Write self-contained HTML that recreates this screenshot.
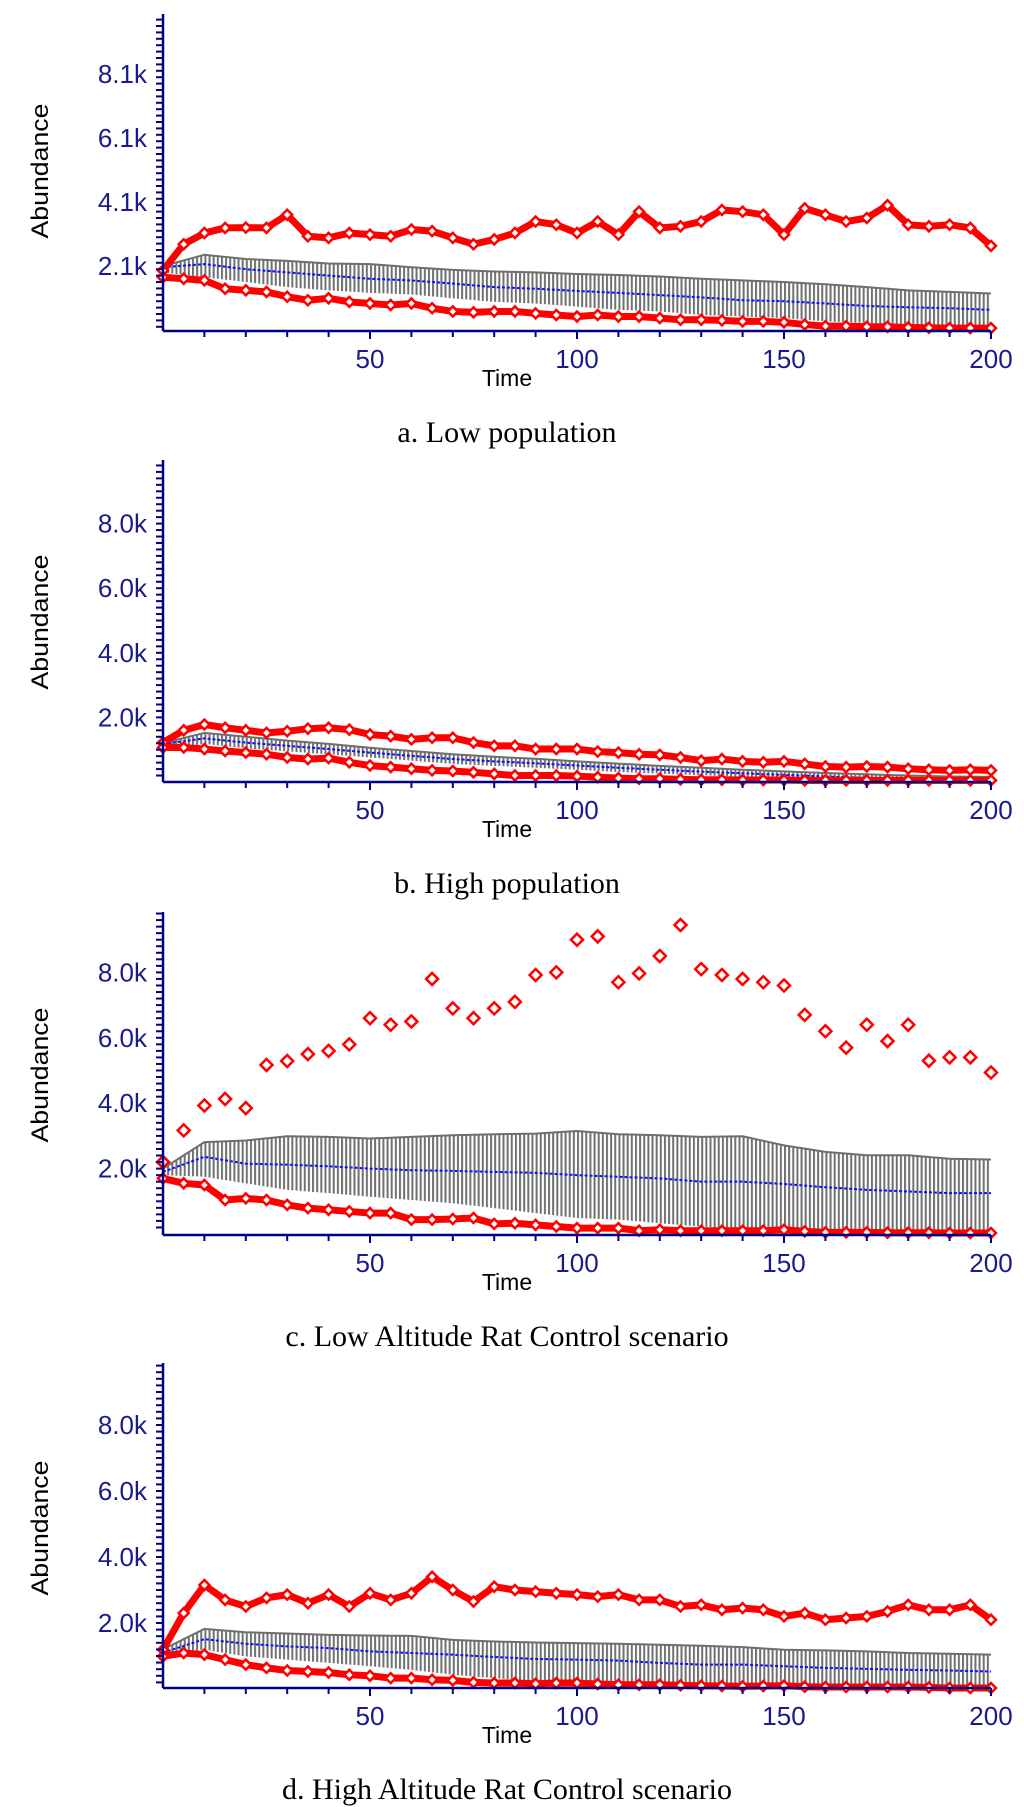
<!DOCTYPE html>
<html><head><meta charset="utf-8"><style>
html,body{margin:0;padding:0;background:#fff;}
svg{display:block;}
</style></head><body>
<svg id="chart" width="1024" height="1807" viewBox="0 0 1024 1807" xmlns="http://www.w3.org/2000/svg">
<defs>
<pattern id="hatch" patternUnits="userSpaceOnUse" width="4.14" height="10" x="163">
<rect x="0" y="0" width="2" height="10" fill="#707070"/>
</pattern>
</defs>
</svg>
<script>
const t5 = [0,5,10,15,20,25,30,35,40,45,50,55,60,65,70,75,80,85,90,95,100,105,110,115,120,125,130,135,140,145,150,155,160,165,170,175,180,185,190,195,200];
const t10 = [0,10,20,30,40,50,60,70,80,90,100,110,120,130,140,150,160,170,180,190,200];
const xTicks = [50,100,150,200];

// Panel a: Low population
const aUpper = [1.96,2.78,3.13,3.29,3.3,3.29,3.7,3.03,2.98,3.13,3.08,3.03,3.24,3.19,2.98,2.78,2.93,3.13,3.49,3.39,3.13,3.49,3.08,3.8,3.29,3.34,3.49,3.85,3.8,3.7,3.08,3.9,3.7,3.49,3.6,4.0,3.39,3.34,3.39,3.29,2.73];
const aLower = [1.75,1.7,1.65,1.39,1.34,1.29,1.14,1.03,1.09,0.98,0.93,0.88,0.93,0.78,0.68,0.65,0.68,0.68,0.62,0.57,0.52,0.57,0.52,0.52,0.47,0.42,0.42,0.4,0.37,0.37,0.34,0.27,0.22,0.22,0.2,0.2,0.18,0.17,0.16,0.16,0.16];
const aMean = [2.06,2.16,2.0,1.9,1.8,1.7,1.65,1.55,1.44,1.39,1.32,1.26,1.19,1.12,1.03,1.0,0.93,0.85,0.81,0.78,0.73];
const aBarTop = [2.1,2.45,2.32,2.26,2.18,2.16,2.06,1.98,1.93,1.9,1.85,1.82,1.77,1.7,1.65,1.6,1.53,1.44,1.34,1.29,1.24];
const aBarBot = [1.9,1.75,1.6,1.44,1.34,1.26,1.21,1.09,0.98,0.93,0.83,0.73,0.68,0.57,0.52,0.47,0.37,0.32,0.27,0.24,0.22];
const aTickVals = [2.1,4.1,6.1,8.1];
const aTickLabels = ["2.1k","4.1k","6.1k","8.1k"];

// Panel b: High population
const bUpper = [1.22,1.6,1.78,1.68,1.6,1.52,1.57,1.65,1.68,1.62,1.47,1.42,1.32,1.37,1.37,1.22,1.12,1.12,1.02,1.02,1.02,0.94,0.91,0.86,0.84,0.76,0.66,0.71,0.64,0.61,0.64,0.56,0.48,0.46,0.48,0.46,0.41,0.38,0.36,0.38,0.36];
const bLower = [1.07,1.07,1.02,0.96,0.91,0.86,0.76,0.71,0.74,0.61,0.51,0.46,0.41,0.36,0.34,0.3,0.25,0.2,0.2,0.2,0.18,0.15,0.12,0.1,0.1,0.08,0.07,0.07,0.06,0.06,0.06,0.05,0.05,0.05,0.05,0.05,0.05,0.05,0.05,0.05,0.05];
const bMean = [1.17,1.35,1.22,1.12,1.02,0.91,0.81,0.71,0.64,0.58,0.51,0.44,0.38,0.32,0.27,0.22,0.17,0.13,0.1,0.08,0.08];
const bBarTop = [1.2,1.52,1.4,1.28,1.18,1.06,0.96,0.86,0.78,0.72,0.64,0.57,0.5,0.44,0.38,0.33,0.28,0.24,0.2,0.17,0.16];
const bBarBot = [1.0,1.18,1.04,0.95,0.86,0.76,0.66,0.56,0.5,0.44,0.38,0.31,0.26,0.21,0.16,0.11,0.07,0.03,0.01,0,0];
const bTickVals = [2,4,6,8];
const bTickLabels = ["2.0k","4.0k","6.0k","8.0k"];

// Panel c: Low Altitude Rat Control scenario
const cUpper = [2.2,3.17,3.93,4.13,3.85,5.17,5.29,5.5,5.6,5.8,6.6,6.4,6.5,7.8,6.9,6.6,6.9,7.1,7.92,8.0,9.0,9.1,7.7,7.97,8.5,9.45,8.1,7.92,7.8,7.7,7.6,6.7,6.2,5.7,6.4,5.9,6.4,5.3,5.4,5.4,4.94];
const cLower = [1.7,1.55,1.5,1.04,1.09,1.04,0.89,0.79,0.74,0.69,0.64,0.64,0.44,0.44,0.46,0.49,0.31,0.33,0.28,0.23,0.18,0.18,0.18,0.1,0.13,0.1,0.1,0.1,0.1,0.1,0.13,0.08,0.05,0.05,0.05,0.04,0.04,0.04,0.03,0.03,0.03];
const cMean = [1.9,2.36,2.15,2.12,2.07,2.0,1.95,1.93,1.9,1.87,1.8,1.75,1.7,1.6,1.6,1.53,1.43,1.35,1.3,1.25,1.25];
const cBarTop = [2.0,2.81,2.86,2.99,2.97,2.92,2.97,3.02,3.05,3.07,3.15,3.05,3.02,2.97,2.99,2.71,2.51,2.41,2.41,2.3,2.28];
const cBarBot = [1.8,1.75,1.55,1.35,1.25,1.14,1.04,0.94,0.79,0.64,0.49,0.44,0.33,0.23,0.13,0.1,0.05,0.04,0.03,0.03,0.03];
const cTickVals = [2,4,6,8];
const cTickLabels = ["2.0k","4.0k","6.0k","8.0k"];

// Panel d: High Altitude Rat Control scenario
const dUpper = [1.19,2.3,3.15,2.7,2.5,2.76,2.86,2.6,2.86,2.5,2.9,2.7,2.9,3.4,3.0,2.65,3.1,3.0,2.95,2.9,2.86,2.8,2.86,2.7,2.7,2.5,2.55,2.4,2.45,2.4,2.2,2.3,2.1,2.15,2.2,2.35,2.55,2.4,2.4,2.55,2.1];
const dLower = [0.99,1.09,1.04,0.89,0.74,0.64,0.56,0.53,0.5,0.43,0.4,0.33,0.33,0.28,0.26,0.2,0.18,0.18,0.16,0.18,0.18,0.15,0.13,0.13,0.13,0.11,0.1,0.09,0.08,0.09,0.1,0.07,0.06,0.06,0.06,0.06,0.06,0.05,0.03,0.03,0.03];
const dMean = [1.1,1.51,1.37,1.29,1.24,1.14,1.09,1.04,0.97,0.91,0.89,0.86,0.79,0.74,0.74,0.69,0.64,0.61,0.58,0.56,0.53];
const dBarTop = [1.2,1.82,1.72,1.68,1.64,1.62,1.61,1.49,1.44,1.41,1.39,1.37,1.34,1.31,1.27,1.19,1.17,1.14,1.09,1.07,1.04];
const dBarBot = [1.0,1.19,0.99,0.89,0.79,0.69,0.58,0.43,0.33,0.23,0.13,0.1,0.05,0.04,0.03,0.03,0.02,0.02,0.02,0.02,0.02];
const dTickVals = [2,4,6,8];
const dTickLabels = ["2.0k","4.0k","6.0k","8.0k"];

const NS = "http://www.w3.org/2000/svg";
const svg = document.getElementById('chart');
function mk(tag, attrs, parent){
  const e = document.createElementNS(NS, tag);
  for (const k in attrs) e.setAttribute(k, attrs[k]);
  (parent||svg).appendChild(e);
  return e;
}
const X0 = 163, XK = 4.14, XEND = 991;
function xs(t){ return X0 + t*XK; }

function panel(id, cfg){
  const g = mk('g', {});
  
  
  const ys = v => cfg.zero - v*cfg.k;

  let pts = [];
  for (let i=0;i<t10.length;i++) pts.push(xs(t10[i])+','+ys(cfg.barTop[i]));
  for (let i=t10.length-1;i>=0;i--) pts.push(xs(t10[i])+','+ys(cfg.barBot[i]));
  const bars = mk('polygon', {points: pts.join(' '), fill:'url(#hatch)'}, g);
  
  
  const topPts = t10.map((t,i)=>xs(t)+','+ys(cfg.barTop[i])).join(' ');
  const cap = mk('polyline', {points: topPts, fill:'none', stroke:'#6e6e6e', 'stroke-width':2}, g);
  
  

  const meanPts = t10.map((t,i)=>xs(t)+','+ys(cfg.mean[i])).join(' ');
  const mean = mk('polyline', {points: meanPts, fill:'none', stroke:'#1010ff', 'stroke-width':2, 'stroke-dasharray':'3 2'}, g);
  
  

  [['upper', cfg.upper, cfg.scatterUpper], ['lower', cfg.lower, false]].forEach(([nm, arr, scatter])=>{
    const sg = mk('g', {}, g);
    
    
    if (!scatter) {
      mk('polyline', {points: t5.map((t,i)=>xs(t)+','+ys(arr[i])).join(' '), fill:'none', stroke:'#ff0000', 'stroke-width':7, 'stroke-linejoin':'round'}, sg);
    }
    for (let i=0;i<t5.length;i++){
      const cx = xs(t5[i]), cy = ys(arr[i]), r = scatter ? 6 : 5;
      const d = mk('polygon', {points: `${cx},${cy-r} ${cx+r},${cy} ${cx},${cy+r} ${cx-r},${cy}`, fill:'#fff', stroke:'#ff0000', 'stroke-width':2.5}, sg);
      
      
    }
  });

  const ax = mk('g', {}, g);
  
  
  mk('line', {x1:X0, y1:cfg.top, x2:X0, y2:cfg.axisY, stroke:'#000080', 'stroke-width':2.5}, ax);
  mk('line', {x1:X0, y1:cfg.axisY, x2:XEND, y2:cfg.axisY, stroke:'#000080', 'stroke-width':2.5}, ax);
  for (let v=0.2; ys(v) > cfg.top; v+=0.2){
    mk('line', {x1:X0-7, y1:ys(v), x2:X0, y2:ys(v), stroke:'#000080', 'stroke-width':2}, ax);
  }
  for (let t=10; t<=200; t+=10){
    mk('line', {x1:xs(t), y1:cfg.axisY, x2:xs(t), y2:cfg.axisY+(t%50===0?8:6), stroke:'#000080', 'stroke-width':2}, ax);
  }
  cfg.tickVals.forEach((v,i)=>{
    const tx = mk('text', {x:147, y:ys(v)+9, 'text-anchor':'end', 'font-family':'Liberation Sans, sans-serif', 'font-size':26, fill:'#1a1a8c'}, ax);
    tx.textContent = cfg.tickLabels[i];
    
    
  });
  xTicks.forEach(t=>{
    const tx = mk('text', {x:xs(t), y:cfg.axisY+37, 'text-anchor':'middle', 'font-family':'Liberation Sans, sans-serif', 'font-size':26, fill:'#1a1a8c'}, ax);
    tx.textContent = String(t);
    
    
  });
  const xt = mk('text', {x:507, y:cfg.axisY+55, 'text-anchor':'middle', 'font-family':'Liberation Sans, sans-serif', 'font-size':23, fill:'#000'}, g);
  xt.textContent = 'Time';
  
  
  const cyA = cfg.axisY - 160;
  const yt = mk('text', {x:0, y:0, transform:`translate(48,${cyA}) rotate(-90)`, 'text-anchor':'middle', 'font-family':'Liberation Sans, sans-serif', 'font-size':24, textLength:135, lengthAdjust:'spacingAndGlyphs', fill:'#000'}, g);
  yt.textContent = 'Abundance';
  
  
  const cap2 = mk('text', {x:507, y:cfg.axisY+111, 'text-anchor':'middle', 'font-family':'Liberation Serif, serif', 'font-size':30, fill:'#000'}, g);
  cap2.textContent = cfg.caption;
  
  
}

panel('low-population', {top:14, axisY:331, zero:333.2, k:32, upper:aUpper, lower:aLower, mean:aMean, barTop:aBarTop, barBot:aBarBot, tickVals:aTickVals, tickLabels:aTickLabels, caption:'a. Low population'});
panel('high-population', {top:460, axisY:782, zero:782, k:32.3, upper:bUpper, lower:bLower, mean:bMean, barTop:bBarTop, barBot:bBarBot, tickVals:bTickVals, tickLabels:bTickLabels, caption:'b. High population'});
panel('low-altitude', {top:912, axisY:1235, zero:1234, k:32.7, upper:cUpper, lower:cLower, mean:cMean, barTop:cBarTop, barBot:cBarBot, tickVals:cTickVals, tickLabels:cTickLabels, scatterUpper:true, caption:'c. Low Altitude Rat Control scenario'});
panel('high-altitude', {top:1363, axisY:1688, zero:1689, k:33, upper:dUpper, lower:dLower, mean:dMean, barTop:dBarTop, barBot:dBarBot, tickVals:dTickVals, tickLabels:dTickLabels, caption:'d. High Altitude Rat Control scenario'});
</script>
</body></html>
